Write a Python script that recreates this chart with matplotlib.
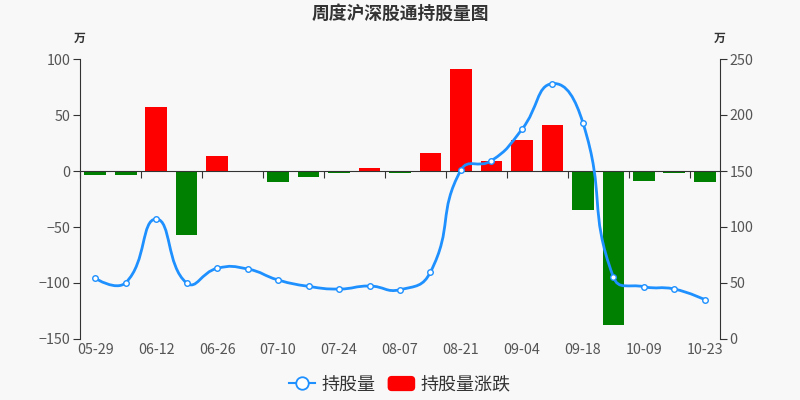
import numpy as np
import matplotlib
matplotlib.use('Agg')
import matplotlib.pyplot as plt
from matplotlib.path import Path
from matplotlib.patches import PathPatch, Patch, FancyBboxPatch
from matplotlib.lines import Line2D
from matplotlib.legend_handler import HandlerPatch

plt.rcParams['font.family'] = ['Noto Sans CJK SC', 'DejaVu Sans']
plt.rcParams['axes.unicode_minus'] = True

# 数据（单位：万）
dates = ['05-29', '06-05', '06-12', '06-19', '06-26', '07-03', '07-10', '07-17',
         '07-24', '07-31', '08-07', '08-14', '08-21', '08-28', '09-04', '09-11',
         '09-18', '09-25', '10-09', '10-16', '10-23']
holding = [54.2, 50.3, 107.1, 50.0, 63.1, 62.5, 52.7, 47.0, 44.6, 47.3, 44.0,
           59.8, 150.9, 159.2, 187.2, 228.0, 193.2, 55.4, 46.7, 44.6, 35.1]
change = [-4, -3.3, 57, -57, 13.1, 0, -9.5, -5.7, -2, 2.4, -1.5,
          16, 91, 8.6, 27.7, 40.8, -34.5, -137.5, -8.6, -1.8, -9.5]

BG = '#f8f8f8'
LINE_C = '#1e90ff'
TXT = '#333333'
LBL = '#555555'


def smooth_path(xs, ys, sx, sy, smooth=0.5):
    """仿 echarts 的平滑折线，sx/sy 为像素比例"""
    px = np.asarray(xs, float) * sx
    py = np.asarray(ys, float) * sy
    n = len(px)
    verts = [(px[0], py[0])]
    codes = [Path.MOVETO]
    cps_in = [(px[i], py[i]) for i in range(n)]
    cps_out = [(px[i], py[i]) for i in range(n)]
    for i in range(1, n - 1):
        vx = px[i + 1] - px[i - 1]
        vy = py[i + 1] - py[i - 1]
        d0 = np.hypot(px[i] - px[i - 1], py[i] - py[i - 1])
        d1 = np.hypot(px[i + 1] - px[i], py[i + 1] - py[i])
        r = d1 / (d0 + d1)
        cps_in[i] = (px[i] - vx * smooth * (1 - r), py[i] - vy * smooth * (1 - r))
        cps_out[i] = (px[i] + vx * smooth * r, py[i] + vy * smooth * r)
    for i in range(1, n):
        verts += [cps_out[i - 1], cps_in[i], (px[i], py[i])]
        codes += [Path.CURVE4] * 3
    verts = [(x / sx, y / sy) for x, y in verts]
    return Path(verts, codes)


def round_box(legend, orig_handle, xdescent, ydescent, width, height, fontsize):
    return FancyBboxPatch((-xdescent, -ydescent), width, height,
                          boxstyle='round,pad=0,rounding_size=2.5')


fig = plt.figure(figsize=(8, 4), dpi=100, facecolor=BG)
ax = fig.add_axes([0.1, 0.1525, 0.8, 0.7], facecolor=BG)
ax2 = ax.twinx()

x = np.arange(len(dates))
colors = ['#ff0000' if v >= 0 else '#008000' for v in change]
ax.bar(x, change, width=0.71, color=colors, zorder=2)

ax.set_xlim(-0.5, len(dates) - 0.5)
ax.set_ylim(-150, 100)
ax.set_yticks([100, 50, 0, -50, -100, -150])
ax2.set_ylim(0, 250)
ax2.set_yticks([0, 50, 100, 150, 200, 250])

# 零轴及其刻度
for s in ['top', 'right']:
    ax.spines[s].set_visible(False)
ax.spines['bottom'].set_position(('data', 0))
ax.spines['bottom'].set_color(TXT)
ax.spines['left'].set_color(TXT)
ax.set_xticks(np.arange(-0.5, len(dates), 2))
ax.tick_params(axis='x', length=5, color=TXT, labelbottom=False)
ax.tick_params(axis='y', length=5, color=TXT, labelcolor=LBL, labelsize=10.3, pad=2)

sec = ax.secondary_xaxis('bottom')
sec.set_xticks(x[::2], [dates[i] for i in x[::2]])
sec.spines['bottom'].set_visible(False)
sec.tick_params(length=0, labelcolor=LBL, labelsize=10.3, pad=3)

for s in ['top', 'left', 'bottom']:
    ax2.spines[s].set_visible(False)
ax2.spines['right'].set_color(TXT)
ax2.tick_params(axis='y', length=5, color=TXT, labelcolor=LBL, labelsize=10.3, pad=2)

# 平滑折线
path = smooth_path(x, holding, 30.5, 1.12)
ax2.add_patch(PathPatch(path, facecolor='none', edgecolor=LINE_C, lw=2, zorder=3))
ax2.plot(x, holding, linestyle='none', marker='o', markersize=4,
         markerfacecolor='white', markeredgecolor=LINE_C, markeredgewidth=1, zorder=4)

fig.text(0.5, 0.965, '周度沪深股通持股量图', ha='center', va='center',
         fontsize=12.8, fontweight='bold', color=TXT)
fig.text(0.1, 0.905, '万', ha='center', va='center', fontsize=8.5, fontweight='bold', color=TXT)
fig.text(0.9, 0.905, '万', ha='center', va='center', fontsize=8.5, fontweight='bold', color=TXT)

handles = [
    Line2D([], [], color=LINE_C, lw=1.5, marker='o', markersize=9,
           markerfacecolor='white', markeredgecolor=LINE_C, markeredgewidth=1.3),
    Patch(facecolor='#ff0000', edgecolor='#ff0000'),
]
fig.legend(handles, ['持股量', '持股量涨跌'], loc='center', bbox_to_anchor=(0.5, 0.038),
           ncol=2, frameon=False, fontsize=13, handlelength=1.45, handleheight=0.8,
           handletextpad=0.35, columnspacing=0.7, labelcolor=TXT,
           handler_map={Patch: HandlerPatch(patch_func=round_box)})

fig.savefig('out.png', dpi=100, facecolor=BG)
